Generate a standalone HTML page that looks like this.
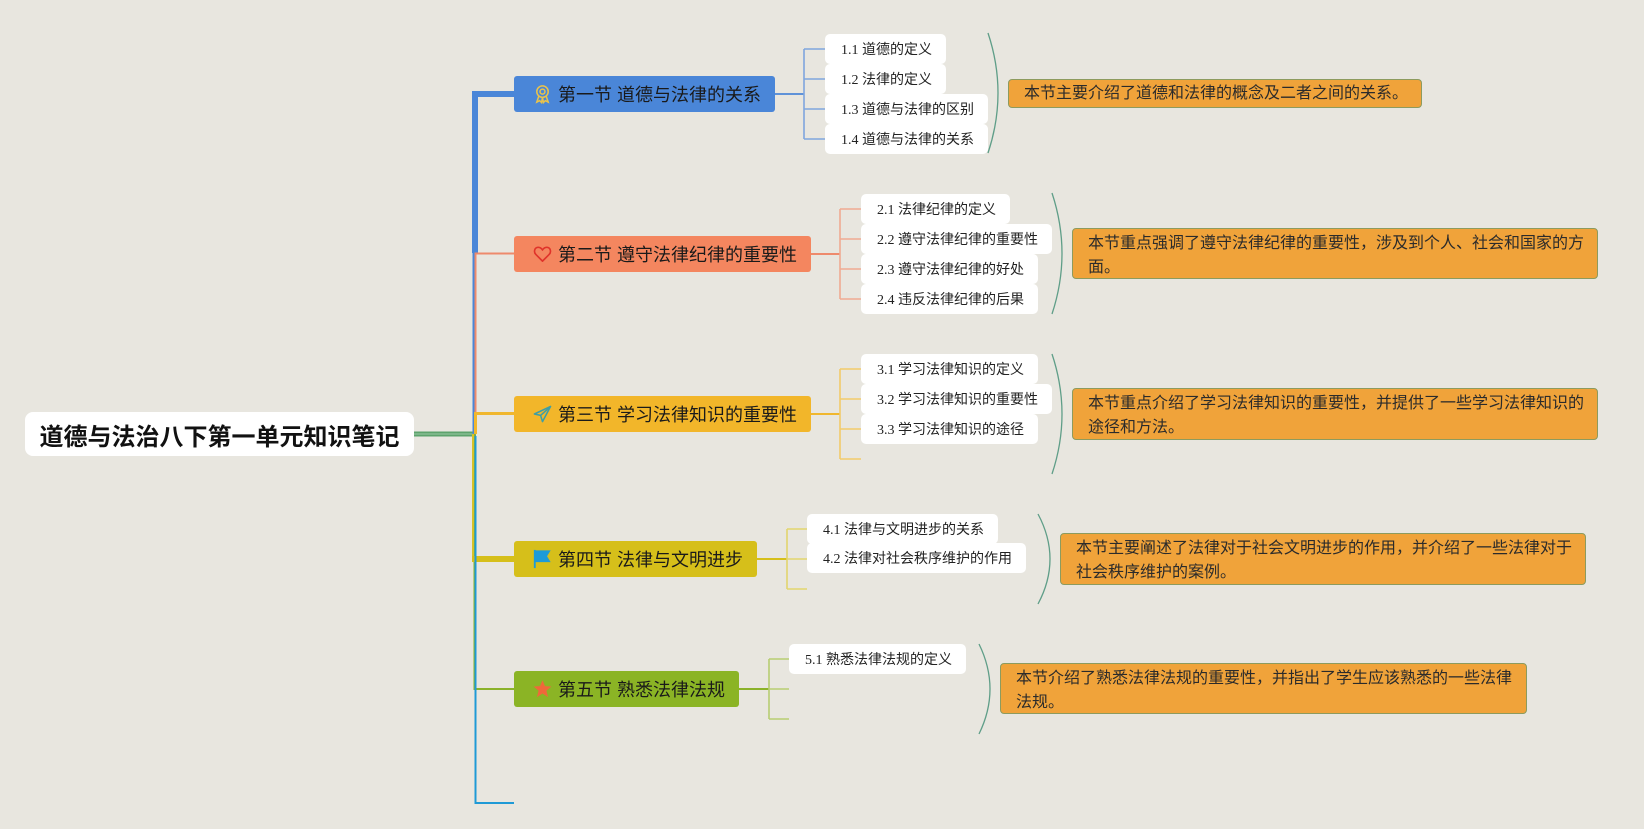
<!DOCTYPE html>
<html>
<head>
<meta charset="utf-8">
<style>
  html, body { margin:0; padding:0; }
  body { width:1644px; height:829px; background:#e8e6df; position:relative; overflow:hidden;
         font-family:"Liberation Sans","Noto Sans CJK SC",sans-serif; }
  svg.lines { position:absolute; left:0; top:0; }
  .root { position:absolute; left:25px; top:412px; width:389px; height:44px; background:#fff; border-radius:8px;
          display:flex; align-items:center; justify-content:center; font-size:24px; font-weight:bold; color:#111; white-space:nowrap; }
  .sec { position:absolute; left:514px; height:36px; border-radius:3px; box-sizing:border-box; padding-left:19px;
         display:flex; align-items:center; font-size:18px; color:#1a1a1a; white-space:nowrap; }
  .sec svg { width:19px; height:20px; margin-right:6px; flex:none; }
  .sub { position:absolute; height:30px; background:#fff; border-radius:5px; box-sizing:border-box; padding-left:16px;
         display:flex; align-items:center; font-size:14px; color:#222; white-space:nowrap;
         font-family:"Liberation Serif","Noto Sans CJK SC",serif; }
  .sum { position:absolute; background:#f0a33a; border:1px solid #8d9b5e; border-radius:4px; box-sizing:border-box;
         padding:3px 0 0 15px; font-size:16px; line-height:24px; color:#2b2b2b; white-space:nowrap; }
</style>
</head>
<body>
<svg class="lines" width="1644" height="829" viewBox="0 0 1644 829" fill="none">
  <path d="M414,434 H476" stroke="#5da36c" stroke-width="5"/>
  <path d="M414,434 H476" stroke="#9ccaa6" stroke-width="1"/>
  <path d="M473.5,434 V253" stroke="#4a86d8" stroke-width="2"/>
  <path d="M475,253 V94 H515" stroke="#4a86d8" stroke-width="6" stroke-linejoin="miter"/>
  <path d="M475.5,434 V253.5 H515" stroke="#ee8a6c" stroke-width="2"/>
  <path d="M475.5,434 V413.5 H515" stroke="#f0b72e" stroke-width="3"/>
  <path d="M474.5,434 V689 H515" stroke="#8bb22a" stroke-width="2"/>
  <path d="M473,434 V559" stroke="#d8c228" stroke-width="2"/>
  <path d="M472,559 H515" stroke="#d6bf1a" stroke-width="6"/>
  <path d="M475.5,436 V803 H514" stroke="#1f9ad6" stroke-width="2"/>

  <path d="M775,94 H804" stroke="#5f92d8" stroke-width="2"/>
  <path d="M804,49 V139 M804,49 H825 M804,79 H825 M804,109 H825 M804,139 H825" stroke="#7fa6de" stroke-width="1.6"/>
  <path d="M811,254 H840" stroke="#ee8a6c" stroke-width="2"/>
  <path d="M840,209 V299 M840,209 H861 M840,239 H861 M840,269 H861 M840,299 H861" stroke="#f0aa92" stroke-width="1.6"/>
  <path d="M811,414 H840" stroke="#f0b72e" stroke-width="2"/>
  <path d="M840,369 V459 M840,369 H861 M840,399 H861 M840,429 H861 M840,459 H861" stroke="#f2cb6a" stroke-width="1.6"/>
  <path d="M757,559 H787" stroke="#d6bf1a" stroke-width="2"/>
  <path d="M787,529 V589 M787,529 H807 M787,559 H807 M787,589 H807" stroke="#e2d56e" stroke-width="1.6"/>
  <path d="M739,689 H769" stroke="#8bb22a" stroke-width="2"/>
  <path d="M769,659 V719 M769,659 H789 M769,689 H789 M769,719 H789" stroke="#b7cd72" stroke-width="1.6"/>

  <g stroke="#5f9e88" stroke-width="1.3">
    <path d="M988,33 Q1008,93 988,153"/>
    <path d="M1052,193 Q1072,253.5 1052,314"/>
    <path d="M1052,354 Q1072,414 1052,474"/>
    <path d="M1038,514 Q1062,559 1038,604"/>
    <path d="M979,644 Q1001,689 979,734"/>
  </g>
</svg>

<div class="root">道德与法治八下第一单元知识笔记</div>

<div class="sec" style="top:76px;width:261px;background:#4a86d8;">
  <svg viewBox="0 0 20 20"><g fill="none" stroke="#e9c34c" stroke-width="1.6"><circle cx="10" cy="7.5" r="6"/><circle cx="10" cy="7.5" r="2.6"/><path d="M6.2,12 L4,18.5 L7,17 L9,19 L10,13.5 L11,19 L13,17 L16,18.5 L13.8,12"/></g></svg>
  第一节 道德与法律的关系</div>
<div class="sec" style="top:236px;width:297px;background:#f4865f;">
  <svg viewBox="0 0 20 20"><path d="M10,17.5 L3,10.5 C0.5,8 1.5,3 5.5,3 C7.8,3 9.2,4.5 10,5.8 C10.8,4.5 12.2,3 14.5,3 C18.5,3 19.5,8 17,10.5 Z" fill="none" stroke="#e0332a" stroke-width="1.7" stroke-linejoin="round"/></svg>
  第二节 遵守法律纪律的重要性</div>
<div class="sec" style="top:396px;width:297px;background:#f2b62a;">
  <svg viewBox="0 0 20 20"><g fill="none" stroke="#3d9ea6" stroke-width="1.6" stroke-linejoin="round"><path d="M18.5,2 L1.5,10 L8,11.5 L10,18 Z"/><path d="M18.5,2 L8,11.5"/></g></svg>
  第三节 学习法律知识的重要性</div>
<div class="sec" style="top:541px;width:243px;background:#d6bf1a;">
  <svg viewBox="0 0 20 22"><path d="M1.5,1 V21" stroke="#1d9bd8" stroke-width="2"/><path d="M1.5,1.5 H19 L15,8 L19,14.5 H1.5 Z" fill="#1d9bd8"/></svg>
  第四节 法律与文明进步</div>
<div class="sec" style="top:671px;width:225px;background:#8bb425;">
  <svg viewBox="0 0 20 20"><path d="M10,0.8 L12.6,7 L19.3,7.4 L14.1,11.7 L15.8,18.6 L10,14.8 L4.2,18.6 L5.9,11.7 L0.7,7.4 L7.4,7 Z" fill="#f0683a"/></svg>
  第五节 熟悉法律法规</div>

<div class="sub" style="left:825px;top:34px;width:121px;">1.1 道德的定义</div>
<div class="sub" style="left:825px;top:64px;width:121px;">1.2 法律的定义</div>
<div class="sub" style="left:825px;top:94px;width:163px;">1.3 道德与法律的区别</div>
<div class="sub" style="left:825px;top:124px;width:163px;">1.4 道德与法律的关系</div>

<div class="sub" style="left:861px;top:194px;width:149px;">2.1 法律纪律的定义</div>
<div class="sub" style="left:861px;top:224px;width:191px;">2.2 遵守法律纪律的重要性</div>
<div class="sub" style="left:861px;top:254px;width:177px;">2.3 遵守法律纪律的好处</div>
<div class="sub" style="left:861px;top:284px;width:177px;">2.4 违反法律纪律的后果</div>

<div class="sub" style="left:861px;top:354px;width:177px;">3.1 学习法律知识的定义</div>
<div class="sub" style="left:861px;top:384px;width:191px;">3.2 学习法律知识的重要性</div>
<div class="sub" style="left:861px;top:414px;width:177px;">3.3 学习法律知识的途径</div>

<div class="sub" style="left:807px;top:514px;width:191px;">4.1 法律与文明进步的关系</div>
<div class="sub" style="left:807px;top:543px;width:219px;">4.2 法律对社会秩序维护的作用</div>

<div class="sub" style="left:789px;top:644px;width:177px;">5.1 熟悉法律法规的定义</div>

<div class="sum" style="left:1008px;top:79px;width:414px;height:29px;padding-top:1px;line-height:25px;">本节主要介绍了道德和法律的概念及二者之间的关系。</div>
<div class="sum" style="left:1072px;top:228px;width:526px;height:51px;">本节重点强调了遵守法律纪律的重要性，涉及到个人、社会和国家的方<br>面。</div>
<div class="sum" style="left:1072px;top:388px;width:526px;height:52px;">本节重点介绍了学习法律知识的重要性，并提供了一些学习法律知识的<br>途径和方法。</div>
<div class="sum" style="left:1060px;top:533px;width:526px;height:52px;">本节主要阐述了法律对于社会文明进步的作用，并介绍了一些法律对于<br>社会秩序维护的案例。</div>
<div class="sum" style="left:1000px;top:663px;width:527px;height:51px;">本节介绍了熟悉法律法规的重要性，并指出了学生应该熟悉的一些法律<br>法规。</div>
</body>
</html>
